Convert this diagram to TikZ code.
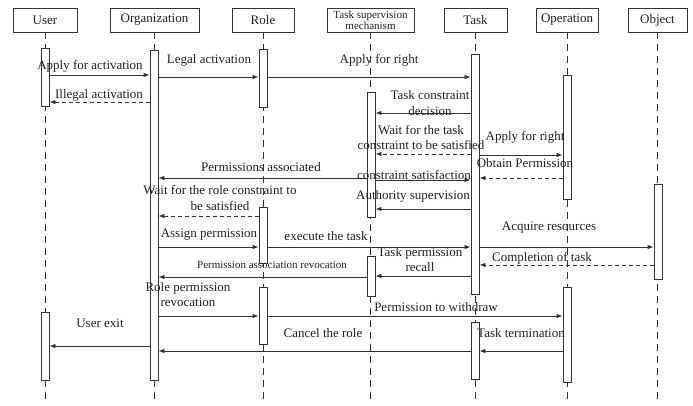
\documentclass[tikz,border=0pt]{standalone}
\usepackage{fontspec}
\setmainfont{Liberation Serif}
\usetikzlibrary{arrows.meta}
\definecolor{linec}{HTML}{333333}
\definecolor{txt}{HTML}{222222}
\begin{document}
\begin{tikzpicture}[x=1pt,y=-1pt,
  head/.style={draw=linec, line width=0.8pt, minimum height=24pt, inner sep=0pt, font=\fontsize{13}{15}\selectfont, text=txt},
  headsmall/.style={head, font=\fontsize{11}{11.5}\selectfont, align=center},
  lifeline/.style={draw=linec, line width=0.7pt, dash pattern=on 7pt off 5pt},
  actbar/.style={draw=linec, fill=white, line width=0.8pt, minimum width=8pt, inner sep=0pt},
  msg/.style={draw=linec, line width=0.8pt, -{Latex[length=6pt,width=4.5pt]}},
  ret/.style={msg, dash pattern=on 4pt off 3pt},
  lbl/.style={font=\fontsize{13}{15.5}\selectfont, text=txt, inner sep=0pt, align=center},
  smalllbl/.style={lbl, font=\fontsize{11}{13}\selectfont}]
\useasboundingbox (0,0) rectangle (693,405);
\fill[white] (0,0) rectangle (693,405);

% headers
\node[head, minimum width=64pt] (user) at (45,20) {User};
\node[head, minimum width=89pt] (org) at (154.5,20) {Organization};
\node[head, minimum width=62pt] (role) at (263,20) {Role};
\node[headsmall, minimum width=87pt] (tsm) at (370.5,20) {Task supervision\\mechanism};
\node[head, minimum width=63pt] (task) at (475.5,20) {Task};
\node[head, minimum width=62pt] (oper) at (567,20) {Operation};
\node[head, minimum width=59pt] (obj) at (657.5,20) {Object};

% lifelines
\foreach \n in {user,org,role,tsm,task,oper,obj}
  \draw[lifeline] (\n.south) -- (\n.south |- 0,400);

% activation bars
\node[actbar, minimum height=58pt] (ub1) at (45,77) {};
\node[actbar, minimum height=68pt] (ub2) at (45,346) {};
\node[actbar, minimum height=330pt] (ob) at (154,215) {};
\node[actbar, minimum height=58pt] (rb1) at (263,78) {};
\node[actbar, minimum height=56pt] (rb2) at (263,235) {};
\node[actbar, minimum height=57pt] (rb3) at (263,315.5) {};
\node[actbar, minimum height=125pt] (sb1) at (371,154.5) {};
\node[actbar, minimum height=40pt] (sb2) at (371,276) {};
\node[actbar, minimum height=240pt] (tb1) at (475,174) {};
\node[actbar, minimum height=57pt] (tb2) at (475,350.5) {};
\node[actbar, minimum height=124pt] (pb1) at (567,137) {};
\node[actbar, minimum height=95pt] (pb2) at (567,334.5) {};
\node[actbar, minimum height=95pt] (jb) at (658,231.5) {};

% messages
\draw[msg] (ub1.east |- 0,75) -- (ob.west |- 0,75);
\draw[ret] (ob.west |- 0,102) -- (ub1.east |- 0,102);
\draw[msg] (ob.east |- 0,77) -- (rb1.west |- 0,77);
\draw[msg] (rb1.east |- 0,77) -- (tb1.west |- 0,77);
\draw[msg] (tb1.west |- 0,113) -- (sb1.east |- 0,113);
\draw[ret] (tb1.west |- 0,154) -- (sb1.east |- 0,154);
\draw[msg] (tb1.east |- 0,155) -- (pb1.west |- 0,155);
\draw[ret] (pb1.west |- 0,178) -- (tb1.east |- 0,178);
\draw[msg] (sb1.west |- 0,178) -- (ob.east |- 0,178);
\draw[msg] (sb1.east |- 0,180) -- (tb1.west |- 0,180);
\draw[msg] (tb1.west |- 0,209) -- (sb1.east |- 0,209);
\draw[ret] (rb2.west |- 0,216) -- (ob.east |- 0,216);
\draw[msg] (ob.east |- 0,247) -- (rb2.west |- 0,247);
\draw[msg] (rb2.east |- 0,247) -- (tb1.west |- 0,247);
\draw[msg] (tb1.east |- 0,247) -- (jb.west |- 0,247);
\draw[ret] (jb.west |- 0,265) -- (tb1.east |- 0,265);
\draw[msg] (tb1.west |- 0,276) -- (sb2.east |- 0,276);
\draw[msg] (sb2.west |- 0,277) -- (ob.east |- 0,277);
\draw[msg] (ob.east |- 0,316) -- (rb3.west |- 0,316);
\draw[msg] (rb3.east |- 0,316) -- (pb2.west |- 0,316);
\draw[msg] (ob.west |- 0,346) -- (ub2.east |- 0,346);
\draw[msg] (tb2.west |- 0,351) -- (ob.east |- 0,351);
\draw[msg] (pb2.west |- 0,351) -- (tb2.east |- 0,351);

% labels
\node[lbl] (l1) at (90,66) {Apply for activation};
\node[lbl] (l2) at (99,95) {Illegal activation};
\node[lbl] (l3) at (209,60) {Legal activation};
\node[lbl] (l4) at (379,60) {Apply for right};
\node[lbl] (l5) at (430,103) {Task constraint\\decision};
\node[lbl] (l6) at (421,137.5) {Wait for the task\\constraint to be satisfied};
\node[lbl] (l7) at (525,137) {Apply for right};
\node[lbl] (l8) at (525,163) {Obtain Permission};
\node[lbl] (l9) at (261,167) {Permissions associated};
\node[lbl] (l10) at (414,175) {constraint satisfaction};
\node[lbl] (l11) at (413,196) {Authority supervision};
\node[lbl] (l12) at (220,198) {Wait for the role constraint to\\be satisfied};
\node[lbl] (l13) at (209,235) {Assign permission};
\node[lbl] (l14) at (326,236) {execute the task};
\node[lbl] (l15) at (549,228) {Acquire resources};
\node[lbl] (l16) at (420,259.5) {Task permission\\recall};
\node[lbl] (l17) at (542,258) {Completion of task};
\node[smalllbl] (l18) at (272,265) {Permission association revocation};
\node[lbl] (l19) at (188,294.5) {Role permission\\revocation};
\node[lbl] (l20) at (436,307) {Permission to withdraw};
\node[lbl] (l21) at (100,323) {User exit};
\node[lbl] (l22) at (323,333) {Cancel the role};
\node[lbl] (l23) at (521,333) {Task termination};
\end{tikzpicture}
\end{document}
